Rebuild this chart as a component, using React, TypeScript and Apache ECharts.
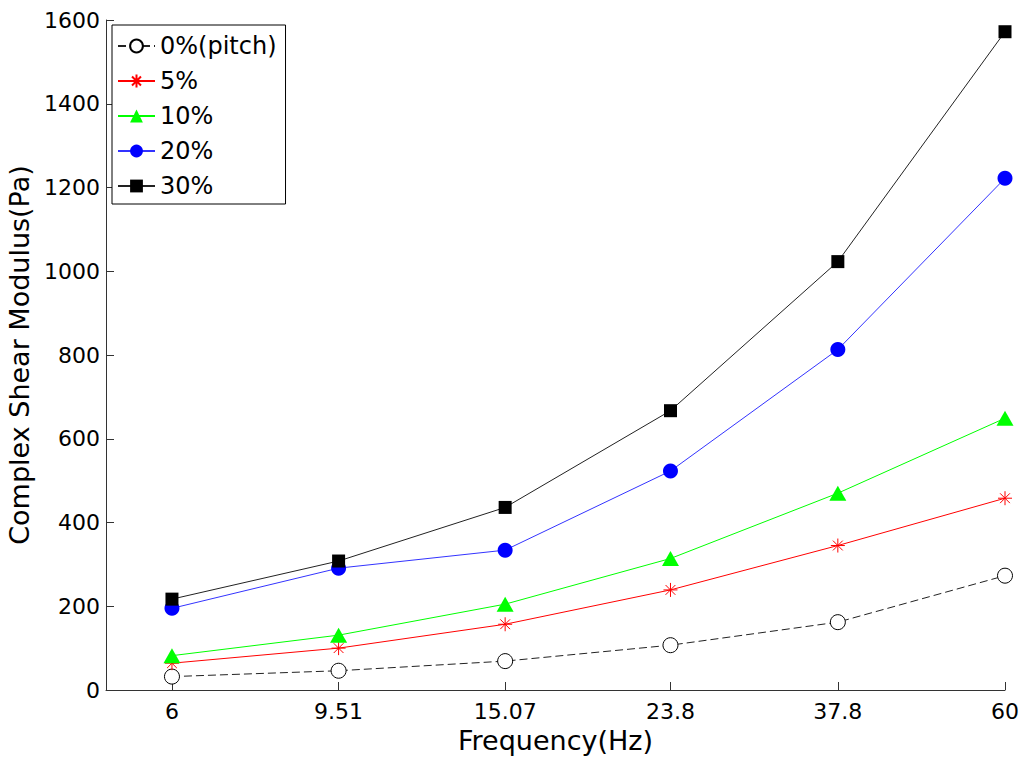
import React, { useEffect, useRef } from 'react';
import * as echarts from 'echarts';

type EChartsOption = echarts.EChartsOption;

const frequencies = [6, 9.51, 15.07, 23.8, 37.8, 60];
const pitch0 = [32, 46, 69, 107, 162, 273];
const pitch5 = [64, 100, 157, 239, 345, 458];
const pitch10 = [82, 131, 205, 314, 470, 649];
const pitch20 = [195, 291, 334, 523, 813, 1222];
const pitch30 = [217, 308, 436, 667, 1023, 1572];
const seriesNames = ['0%(pitch)', '5%', '10%', '20%', '30%'];

const font = 'DejaVu Sans';
const asterisk = 'path://M0 5L10 5M5 0L5 10M1.5 1.5L8.5 8.5M1.5 8.5L8.5 1.5';

const pairs = (values: number[]) => frequencies.map((f, i) => [f, values[i]]);

const App: React.FC = () => {
  const chartRef = useRef<HTMLDivElement>(null);

  const option: EChartsOption = {
    animation: false,
    backgroundColor: '#fff',
    grid: { left: 106, right: 19, top: 20, bottom: 72, outerBoundsMode: 'none' } as any,
    legend: {
      orient: 'vertical',
      left: 112,
      top: 25,
      padding: [9, 9, 6, 5],
      itemGap: 11,
      itemWidth: 37,
      itemHeight: 16,
      backgroundColor: '#fff',
      borderColor: '#000',
      borderWidth: 1,
      borderRadius: 0,
      textStyle: { fontFamily: font, fontSize: 24, color: '#000' },
      data: seriesNames,
    },
    xAxis: {
      type: 'log',
      logBase: 10,
      min: 5,
      max: 60,
      name: 'Frequency(Hz)',
      nameLocation: 'middle',
      nameGap: 19,
      nameTextStyle: { fontFamily: font, fontSize: 27, color: '#000' },
      axisLine: { lineStyle: { color: '#333', width: 1 } },
      axisTick: { inside: true, length: 8, customValues: frequencies, lineStyle: { color: '#333' } },
      axisLabel: {
        customValues: frequencies,
        margin: 10,
        fontFamily: font,
        fontSize: 22,
        color: '#000',
        formatter: (v: number) => String(v),
      },
      splitLine: { show: false },
      minorTick: { show: false },
    },
    yAxis: {
      type: 'value',
      min: 0,
      max: 1600,
      interval: 200,
      name: 'Complex Shear Modulus(Pa)',
      nameLocation: 'middle',
      nameGap: 70,
      nameTextStyle: { fontFamily: font, fontSize: 27, color: '#000' },
      axisLine: { show: true, lineStyle: { color: '#333', width: 1 } },
      axisTick: { show: true, inside: true, length: 8, lineStyle: { color: '#333' } },
      axisLabel: {
        margin: 6,
        fontFamily: font,
        fontSize: 22,
        color: '#000',
        formatter: (v: number) => String(v),
      },
      splitLine: { show: false },
    },
    series: [
      {
        name: seriesNames[0],
        type: 'line',
        data: pairs(pitch0),
        symbol: 'circle',
        symbolSize: 15,
        itemStyle: { color: '#fff', borderColor: '#000', borderWidth: 1 },
        lineStyle: { color: '#222', width: 1, type: [8, 4] },
      },
      {
        name: seriesNames[1],
        type: 'line',
        data: pairs(pitch5),
        symbol: asterisk,
        symbolSize: 14,
        itemStyle: { color: '#ff0000', borderColor: '#ff0000', borderWidth: 1 },
        lineStyle: { color: '#ff0000', width: 1 },
      },
      {
        name: seriesNames[2],
        type: 'line',
        data: pairs(pitch10),
        symbol: 'triangle',
        symbolSize: [17, 15],
        itemStyle: { color: '#00ff00' },
        lineStyle: { color: '#00ff00', width: 1 },
      },
      {
        name: seriesNames[3],
        type: 'line',
        data: pairs(pitch20),
        symbol: 'circle',
        symbolSize: 15,
        itemStyle: { color: '#0000ff' },
        lineStyle: { color: '#3333ff', width: 1 },
      },
      {
        name: seriesNames[4],
        type: 'line',
        data: pairs(pitch30),
        symbol: 'rect',
        symbolSize: 13,
        itemStyle: { color: '#000' },
        lineStyle: { color: '#222', width: 1 },
      },
    ],
  };

  useEffect(() => {
    if (!chartRef.current) return;
    document.body.style.margin = '0';

    const myChart = echarts.init(chartRef.current, undefined, { renderer: 'svg' });
    myChart.setOption(option);

    return () => {
      myChart.dispose();
    };
  }, []);

  return <div ref={chartRef} style={{ width: 1024, height: 762 }} />;
};

export default App;
